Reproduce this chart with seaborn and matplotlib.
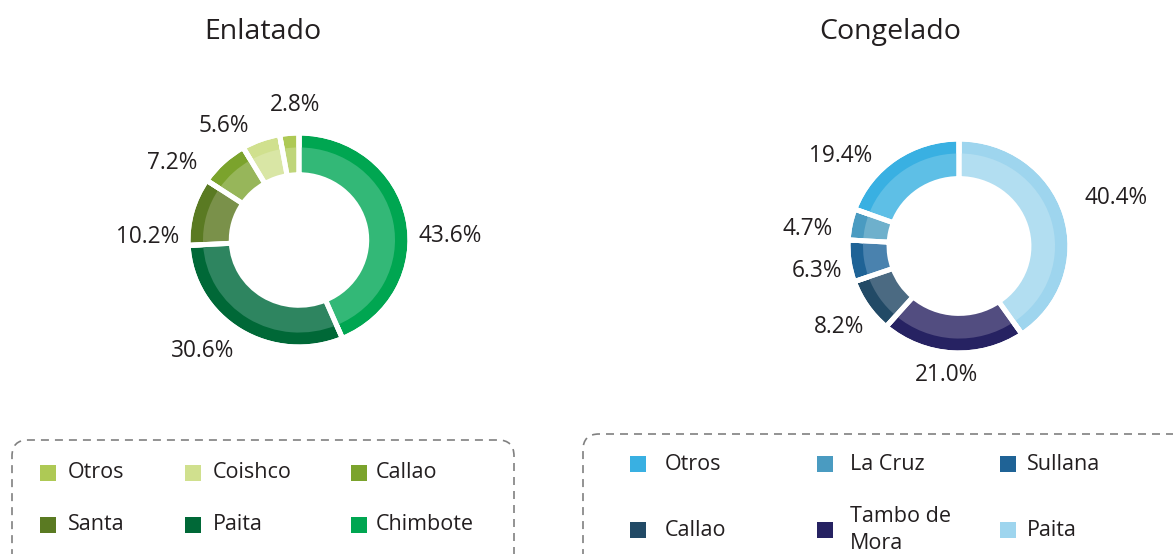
import matplotlib
matplotlib.use("Agg")
import matplotlib.pyplot as plt
import seaborn as sns
import numpy as np
from matplotlib.patches import FancyBboxPatch, Rectangle

sns.set_theme(style="white")
plt.rcParams['font.family'] = ['Open Sans', 'DejaVu Sans']

# ---------------- data ----------------
enl_labels = ["Chimbote", "Paita", "Santa", "Callao", "Coishco", "Otros"]
enl_values = [43.6, 30.6, 10.2, 7.2, 5.6, 2.8]
enl_outer = ["#00A651", "#006837", "#5A7A22", "#7BA32C", "#D0E08E", "#AEC955"]
enl_inner = ["#33B877", "#2E8560", "#7A914A", "#97B65A", "#D9E6A5", "#BFD57A"]
enl_legend_order = ["Otros", "Coishco", "Callao", "Santa", "Paita", "Chimbote"]

con_labels = ["Paita", "Tambo de\nMora", "Callao", "Sullana", "La Cruz", "Otros"]
con_values = [40.4, 21.0, 8.2, 6.3, 4.7, 19.4]
con_outer = ["#9ED5EE", "#262262", "#224A66", "#1F6396", "#4A9BC1", "#39B0E2"]
con_inner = ["#B2DEF1", "#524D80", "#4B6A82", "#4A82AE", "#6EB0CC", "#5EBFE6"]
con_legend_order = ["Otros", "La Cruz", "Sullana", "Callao", "Tambo de\nMora", "Paita"]

titles = ["Enlatado", "Congelado"]

# ---------------- layout (pixels) ----------------
W, H = 1173, 554
DPI = 100
fig = plt.figure(figsize=(W / DPI, H / DPI), dpi=DPI)
fig.patch.set_facecolor("white")

UX, UY = 111.0, 107.0     # pixels per data unit
LIM = 1.6
TXT = "#231F20"


def make_axes(cx, cy):
    w = 2 * LIM * UX
    h = 2 * LIM * UY
    left = (cx - w / 2) / W
    bottom = (H - cy - h / 2) / H
    return fig.add_axes([left, bottom, w / W, h / H])


def donut(ax, values, outer, inner, hole, lab_da, lab_r):
    lw = 3.6
    wedges, _ = ax.pie(values, radius=1.0, startangle=90, counterclock=False,
                       colors=outer,
                       wedgeprops=dict(width=1 - hole, edgecolor="white", linewidth=lw))
    ax.pie(values, radius=0.865, startangle=90, counterclock=False,
           colors=inner, wedgeprops=dict(width=0.865 - hole, edgecolor="none", linewidth=0))
    ax.pie(values, radius=1.0, startangle=90, counterclock=False,
           colors=outer,
           wedgeprops=dict(width=1 - hole, fill=False, edgecolor="white", linewidth=lw))
    for w, v, da, r in zip(wedges, values, lab_da, lab_r):
        ang = np.deg2rad((w.theta1 + w.theta2) / 2 + da)
        ax.text(r * np.cos(ang), r * np.sin(ang), f"{v:.1f}%",
                ha="center", va="center", fontsize=16.3, color=TXT)
    ax.set_aspect("auto")
    ax.set_xlim(-LIM, LIM)
    ax.set_ylim(-LIM, LIM)
    ax.set_axis_off()


ax1 = make_axes(299, 240)
donut(ax1, enl_values, enl_outer, enl_inner, 0.61,
      [-9.8, -7.8, 14.3, 14.6, 12.5, -3.4],
      [1.36, 1.35, 1.36, 1.35, 1.26, 1.26])

ax2 = make_axes(959, 246)
donut(ax2, con_values, con_outer, con_inner, 0.63,
      [0.3, -2.3, 0.8, 2.3, 5.0, 16.9],
      [1.48, 1.21, 1.32, 1.30, 1.37, 1.36])

# titles
for t, x in zip(titles, [263, 890]):
    fig.text(x / W, 1 - 32 / H, t, ha="center", va="center", fontsize=20.5, color=TXT)


# ---------------- legends ----------------
def px(x, y):
    return (x / DPI, (H - y) / DPI)


def legend(order, labels, colors, box, sq_x, txt_x, rows_y, sq):
    x0, y0, x1 = box
    bx, by = px(x0, 600)
    bw = (x1 - x0) / DPI
    bh = (600 - y0) / DPI
    frame = FancyBboxPatch((bx, by), bw, bh,
                           boxstyle="round,pad=0,rounding_size=0.16",
                           transform=fig.dpi_scale_trans, facecolor="none",
                           edgecolor="#808080", linewidth=1.2,
                           linestyle=(0, (4.8, 3.6)), clip_on=False)
    fig.add_artist(frame)
    cmap = dict(zip(labels, colors))
    for i, name in enumerate(order):
        r, c = divmod(i, 3)
        cy = rows_y[r]
        sx, sy = px(sq_x[c], cy + sq / 2)
        fig.add_artist(Rectangle((sx, sy), sq / DPI, sq / DPI,
                                 transform=fig.dpi_scale_trans,
                                 facecolor=cmap[name], edgecolor="none"))
        tx, ty = px(txt_x[c], cy)
        fig.text(tx / (W / DPI), ty / (H / DPI), name, ha="left", va="center",
                 fontsize=15.5, color=TXT, linespacing=1.35)


legend(enl_legend_order, enl_labels, enl_outer, (12, 440, 514),
       [40, 185, 351], [68, 213, 376], [473, 525], 16)
legend(con_legend_order, con_labels, con_outer, (583, 434, 1200),
       [630, 817, 1000], [665, 850, 1027], [464, 530], 16)

fig.savefig("out.png", dpi=DPI, facecolor="white")
